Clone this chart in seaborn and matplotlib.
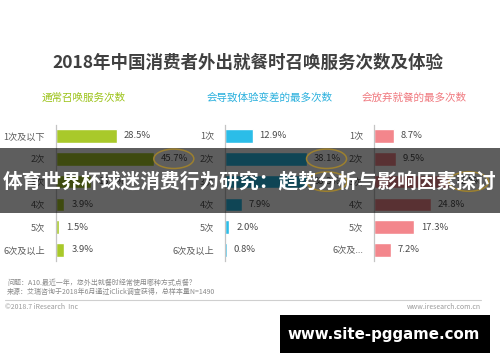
import matplotlib
matplotlib.use("Agg")
import matplotlib.pyplot as plt
from matplotlib.patches import Ellipse, Rectangle
import seaborn as sns
import pandas as pd

sns.set_theme(style="white")
plt.rcParams['font.family'] = ['Noto Sans CJK SC', 'DejaVu Sans']

# ---- data ----
title = "2018年中国消费者外出就餐时召唤服务次数及体验"
panel_titles = ["通常召唤服务次数", "会导致体验变差的最多次数", "会放弃就餐的最多次数"]
cats_1 = ["1次及以下", "2次", "3次", "4次", "5次", "6次及以上"]
cats_2 = ["1次", "2次", "3次", "4次", "5次", "6次及以上"]
cats_3 = ["1次", "2次", "3次", "4次", "5次", "6次及..."]
vals_1 = [28.5, 45.7, 16.5, 3.9, 1.5, 3.9]
vals_2 = [12.9, 38.1, 38.3, 7.9, 2.0, 0.8]
vals_3 = [8.7, 9.5, 32.5, 24.8, 17.3, 7.2]
highlight_1 = [1]
highlight_2 = [1, 2]
highlight_3 = [2]
note_q = "问题：A10.最近一年，您外出就餐时经常使用哪种方式点餐？"
note_src = "来源：艾瑞咨询于2018年6月通过iClick调查获得，总样本量N=1490"
copyright_txt = "©2018.7 iResearch  Inc"
site_txt = "www.iresearch.com.cn"
banner_txt = "体育世界杯球迷消费行为研究：趋势分析与影响因素探讨"
watermark_txt = "www.site-pggame.com"

bar_colors = ["#a9c92a", "#2bbde8", "#f3868c"]
title_colors = ["#9cc31a", "#2ab0dd", "#f07a80"]

W, H = 500, 362
fig = plt.figure(figsize=(W / 100, H / 100), dpi=100)
fig.patch.set_facecolor("white")

def fx(px):
    return px / W

def fy(py):
    return 1 - py / H

# axes layout (left px, xmax, px per unit)
layouts = [(56, 60, 2.14), (225, 60, 2.14), (374, 50, 2.3)]
top_px, bot_px = 124.6, 261.4
datasets = [(cats_1, vals_1, highlight_1), (cats_2, vals_2, highlight_2), (cats_3, vals_3, highlight_3)]

axes = []
for (left, xmax, scale), (cats, vals, hl), col in zip(layouts, datasets, bar_colors):
    ax = fig.add_axes([fx(left), fy(bot_px), fx(xmax * scale), (bot_px - top_px) / H])
    df = pd.DataFrame({"cat": cats, "val": vals})
    sns.barplot(data=df, x="val", y="cat", ax=ax, color=col, saturation=1,
                width=0.6, orient="h")
    ax.set_xlim(0, xmax)
    ax.set_xlabel("")
    ax.set_ylabel("")
    ax.set_xticks([])
    for s in ["top", "right", "bottom"]:
        ax.spines[s].set_visible(False)
    ax.spines["left"].set_color("#c4c4c4")
    ax.spines["left"].set_linewidth(0.9)
    ax.tick_params(axis="y", length=0, pad=8, labelsize=6.6, labelcolor="#5a5a5a")
    ax.set_facecolor("none")
    ax.bar_label(ax.containers[0], labels=[f"{v:.1f}%" for v in vals],
                 padding=5, fontsize=6.8, color="#4a4a4a")
    # highlight ellipses (above the overlay)
    for i in hl:
        e = Ellipse((vals[i] + 20 / scale, i), 40 / scale, 0.85,
                    transform=ax.transData, fill=False, edgecolor="#9c802f",
                    linewidth=1.1, zorder=6)
        fig.add_artist(e)
    axes.append(ax)

# titles
fig.text(0.495, fy(63), title, ha="center", va="center", fontsize=12.6,
         fontweight="bold", color="#404040")
for x, t, c in zip([42, 207, 362], panel_titles, title_colors):
    fig.text(fx(x), fy(98), t, ha="left", va="center", fontsize=7.6, color=c)

# footer
fig.text(fx(7), fy(283), note_q, ha="left", va="center", fontsize=5, color="#8a8a8a")
fig.text(fx(7), fy(292), note_src, ha="left", va="center", fontsize=5, color="#8a8a8a")
fig.add_artist(plt.Line2D([fx(5), fx(481)], [fy(300), fy(300)], color="#cfcfcf", linewidth=0.8))
fig.text(fx(5), fy(307), copyright_txt, ha="left", va="center", fontsize=5, color="#9a9a9a")
fig.text(fx(481), fy(307), site_txt, ha="right", va="center", fontsize=5, color="#9a9a9a")

# overlay banner
fig.add_artist(Rectangle((0, fy(213)), 1, 65 / H, transform=fig.transFigure,
                         facecolor="black", alpha=0.63, edgecolor="none", zorder=5))
fig.text(0.5, fy(181), banner_txt, ha="center", va="center", fontsize=14.2,
         fontweight="bold", color="white", zorder=7)

# watermark box
fig.add_artist(Rectangle((fx(280), fy(353)), fx(210), 38 / H, transform=fig.transFigure,
                         facecolor="black", edgecolor="none", zorder=5))
fig.text(fx(384), fy(334), watermark_txt, ha="center", va="center", fontsize=10.8,
         fontweight="bold", color="white", family=["DejaVu Sans"], zorder=7)

fig.savefig("out.png", dpi=100, facecolor="white")
